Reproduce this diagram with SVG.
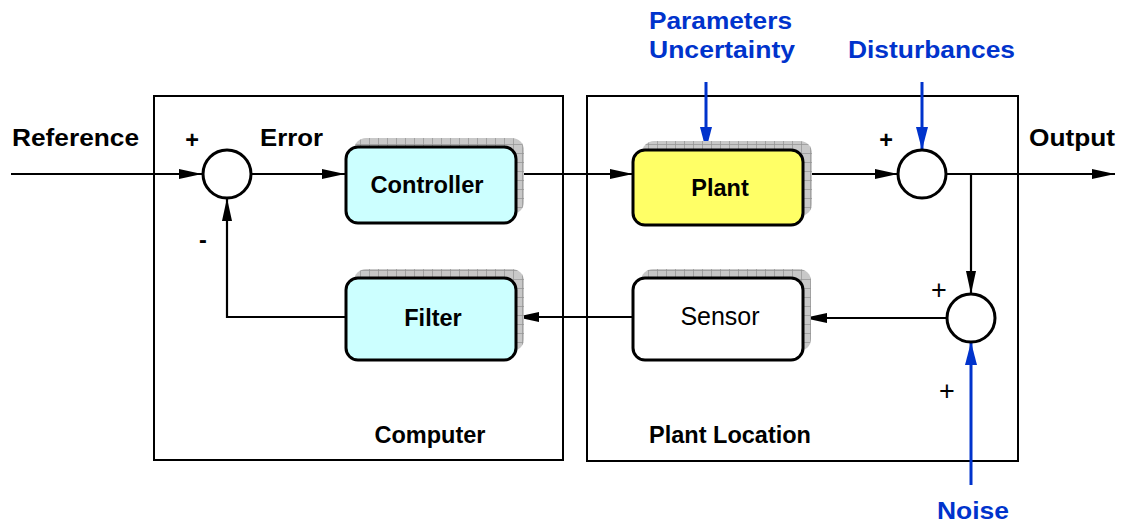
<svg xmlns="http://www.w3.org/2000/svg" width="1124" height="525" viewBox="0 0 1124 525">
  <defs>
    <!-- hatched drop shadow fill -->
    <pattern id="hatch" width="9" height="9" patternUnits="userSpaceOnUse">
      <rect width="9" height="9" fill="#c8c8c8"/>
      <path d="M0 0.5H9M0.5 0V9" stroke="#929292" stroke-width="0.7"/>
    </pattern>
    <marker id="arr" markerUnits="userSpaceOnUse" markerWidth="24" markerHeight="12" refX="23" refY="5" orient="auto">
      <path d="M0 0L23 5L0 10Z" fill="#000"/>
    </marker>
    <marker id="arrB" markerUnits="userSpaceOnUse" markerWidth="24" markerHeight="14" refX="23" refY="6" orient="auto">
      <path d="M0 0L23 6L0 12Z" fill="#0033cc"/>
    </marker>
  </defs>
  <style>
    text { font-family: "Liberation Sans", Arial, sans-serif; font-weight: bold; font-size: 23.5px; fill: #000; }
    .blue { fill: #0033cc; }
    .reg { font-weight: normal; }
    .sens { font-weight: normal; font-size: 25px; }
    .plus { font-weight: normal; font-size: 27px; }
    .frame { fill: none; stroke: #000; stroke-width: 2; }
    .block { stroke: #000; stroke-width: 3; }
    .shadow { fill: url(#hatch); }
    .sum { fill: #fff; stroke: #000; stroke-width: 3; }
    .wire { fill: none; stroke: #000; stroke-width: 2.2; }
    .bwire { fill: none; stroke: #0033cc; stroke-width: 3; }
  </style>

  <rect width="1124" height="525" fill="#fff"/>

  <!-- enclosing regions -->
  <g id="computer">
    <rect class="frame" x="154" y="96" width="409" height="364"/>
    <text x="430" y="443" text-anchor="middle">Computer</text>
  </g>
  <g id="plant-location">
    <rect class="frame" x="587" y="96" width="431" height="365"/>
    <text x="730" y="443" text-anchor="middle">Plant Location</text>
  </g>

  <!-- connectors -->
  <g id="connectors">
    <path class="wire" d="M11 174H202" marker-end="url(#arr)"/>
    <path class="wire" d="M251 174H345" marker-end="url(#arr)"/>
    <path class="wire" d="M516 174H633" marker-end="url(#arr)"/>
    <path class="wire" d="M803 174H898" marker-end="url(#arr)"/>
    <path class="wire" d="M946 174H1115" marker-end="url(#arr)"/>
    <path class="wire" d="M971 174V294" marker-end="url(#arr)"/>
    <path class="wire" d="M947 318H804" marker-end="url(#arr)"/>
    <path class="wire" d="M633 317H516" marker-end="url(#arr)"/>
    <path class="wire" d="M346 317H227V198" marker-end="url(#arr)"/>
    <path class="bwire" d="M706 82V150" marker-end="url(#arrB)"/>
    <path class="bwire" d="M922 82V150" marker-end="url(#arrB)"/>
    <path class="bwire" d="M971 485V342" marker-end="url(#arrB)"/>
  </g>

  <!-- summing junctions -->
  <g id="sum1">
    <circle class="sum" cx="227" cy="174" r="24"/>
    <text x="192" y="148" text-anchor="middle">+</text>
    <text x="203" y="248" text-anchor="middle">-</text>
  </g>
  <g id="sum2">
    <circle class="sum" cx="922" cy="174" r="24"/>
    <text x="886" y="148" text-anchor="middle">+</text>
  </g>
  <g id="sum3">
    <circle class="sum" cx="971" cy="318" r="24"/>
    <text class="plus" x="939" y="299" text-anchor="middle">+</text>
    <text class="plus" x="947" y="400" text-anchor="middle">+</text>
  </g>

  <!-- blocks -->
  <g id="controller">
    <rect class="shadow" x="354" y="138" width="170" height="76" rx="12"/>
    <rect class="block" x="346" y="147" width="170" height="76" rx="12" fill="#ccffff"/>
    <text x="427" y="193" text-anchor="middle" textLength="113" lengthAdjust="spacingAndGlyphs">Controller</text>
  </g>
  <g id="plant">
    <rect class="shadow" x="642" y="141" width="170" height="75" rx="12"/>
    <rect class="block" x="633" y="150" width="170" height="75" rx="12" fill="#ffff66"/>
    <text x="720" y="196" text-anchor="middle">Plant</text>
  </g>
  <g id="filter">
    <rect class="shadow" x="354" y="269" width="170" height="82" rx="12"/>
    <rect class="block" x="346" y="278" width="170" height="82" rx="12" fill="#ccffff"/>
    <text x="433" y="326" text-anchor="middle">Filter</text>
  </g>
  <g id="sensor">
    <rect class="shadow" x="641" y="269" width="170" height="82" rx="12"/>
    <rect class="block" x="633" y="278" width="170" height="82" rx="12" fill="#fff"/>
    <text class="sens" x="720" y="325" text-anchor="middle">Sensor</text>
  </g>

  <!-- signal labels -->
  <g id="labels">
    <text x="12" y="146" textLength="127" lengthAdjust="spacingAndGlyphs">Reference</text>
    <text x="260" y="146" textLength="63" lengthAdjust="spacingAndGlyphs">Error</text>
    <text x="1029" y="146" textLength="86" lengthAdjust="spacingAndGlyphs">Output</text>
    <text class="blue" x="649" y="29" textLength="143" lengthAdjust="spacingAndGlyphs">Parameters</text>
    <text class="blue" x="649" y="58" textLength="146" lengthAdjust="spacingAndGlyphs">Uncertainty</text>
    <text class="blue" x="848" y="58" textLength="167" lengthAdjust="spacingAndGlyphs">Disturbances</text>
    <text class="blue" x="937" y="519" textLength="72" lengthAdjust="spacingAndGlyphs">Noise</text>
  </g>
</svg>
